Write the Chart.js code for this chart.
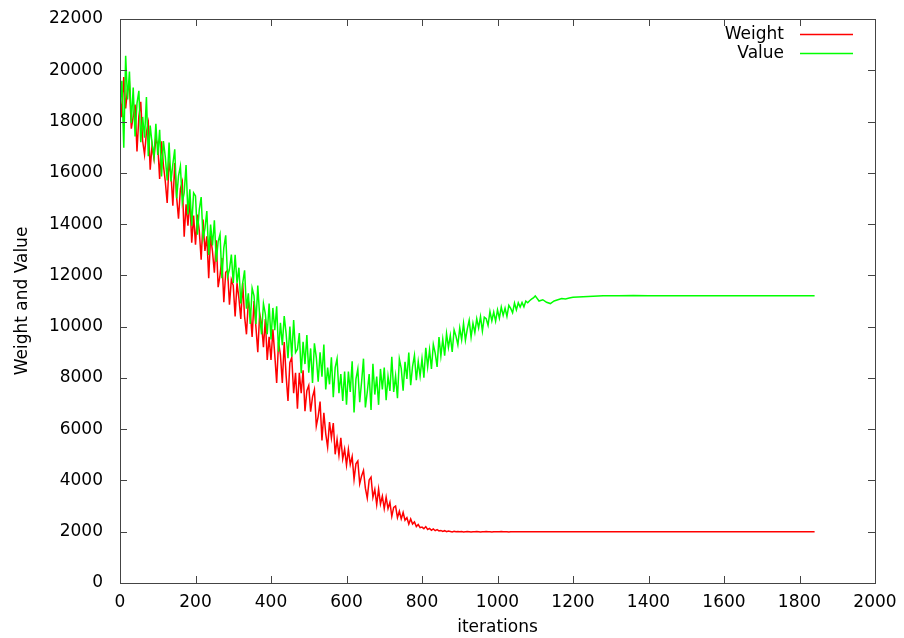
<!DOCTYPE html>
<html>
<head>
<meta charset="utf-8">
<script src="https://cdn.jsdelivr.net/npm/chart.js@4.4.1/dist/chart.umd.min.js"></script>
<style>
  html, body { margin: 0; padding: 0; background: #fff; }
  #wrap { width: 904px; height: 638px; }
</style>
</head>
<body>
<div id="wrap"><canvas id="gaChart" width="904" height="638"></canvas></div>
<script>
// x 값 (iterations) - 잡음 구간은 5 간격, 평탄 구간은 간격을 넓힘
const iterations = [
  0,5,10,15,20,25,30,35,40,45,50,55,60,65,70,75,80,85,90,95,
  100,105,110,115,120,125,130,135,140,145,150,155,160,165,170,175,180,185,190,195,
  200,205,210,215,220,225,230,235,240,245,250,255,260,265,270,275,280,285,290,295,
  300,305,310,315,320,325,330,335,340,345,350,355,360,365,370,375,380,385,390,395,
  400,405,410,415,420,425,430,435,440,445,450,455,460,465,470,475,480,485,490,495,
  500,505,510,515,520,525,530,535,540,545,550,555,560,565,570,575,580,585,590,595,
  600,605,610,615,620,625,630,635,640,645,650,655,660,665,670,675,680,685,690,695,
  700,705,710,715,720,725,730,735,740,745,750,755,760,765,770,775,780,785,790,795,
  800,805,810,815,820,825,830,835,840,845,850,855,860,865,870,875,880,885,890,895,
  900,905,910,915,920,925,930,935,940,945,950,955,960,965,970,975,980,985,990,995,
  1000,1005,1010,1015,1020,1025,1030,1035,1040,1045,1050,1055,1060,1065,1070,1075,1080,1085,1090,1095,
  1100,
  1110,1120,1130,1140,1150,1160,1170,1180,1190,1200,
  1240,1280,1320,1360,1400,1440,1480,1520,1560,1600,1640,1680,1720,1760,1800,1840
];

const weight = [
  19200,18170,19740,18510,19280,19450,17720,18190,18660,16830,18200,18770,17240,16710,17580,17950,16120,17090,16560,17330,
  17100,15765,17230,16295,15660,14825,16390,15955,14720,16385,15050,14215,15380,15645,13510,14775,13940,15005,13270,14335,
  13200,14370,13740,12610,14180,12950,13520,11890,13560,12930,12100,13370,11540,12010,12680,10950,12120,12190,10860,11830,
  11600,10400,11700,11100,10300,11700,10400,9700,11000,10600,9600,11000,10000,9000,10500,10100,9200,10300,8700,9600,
  8700,9900,8900,7800,9400,8900,7800,9400,8100,7100,8600,8800,7400,8200,6800,8200,7400,8300,6700,7500,
  7700,6680,7260,7540,6120,6500,7080,5560,6640,5820,5300,6280,5660,6240,5020,5600,4980,5660,4840,5220,
  4600,5210,4620,4930,4040,4650,4760,3870,4180,4390,3700,3310,4020,4130,3340,3650,3060,3670,3080,3390,
  2900,3350,2900,3150,2600,2950,3000,2550,2800,2500,2750,2450,2550,2300,2500,2300,2380,2200,2280,2160,
  2180,2120,2200,2090,2130,2060,2110,2040,2080,2030,2050,2010,2040,2000,2030,2010,1990,2020,2000,2010,
  2000,2010,1990,2000,2010,2000,1990,2000,2000,2010,2000,1990,2000,2000,2010,2000,2000,1990,2000,2000,
  2000,2000,2010,2000,2000,2000,1990,2000,2000,2000,2000,2000,2000,2000,2000,2000,2000,2000,2000,2000,
  2000,
  2000,2000,2000,2000,2000,2000,2000,2000,2000,2000,
  2000,2000,2000,2000,2000,2000,2000,2000,2000,2000,2000,2000,2000,2000,2000,2000
];

const value = [
  18500,19590,16980,20570,18860,19950,17940,19330,17420,18710,19200,17190,18180,17370,18960,16650,17840,17130,16620,17910,
  16700,17680,15860,17240,16620,15700,17180,15660,16340,16920,15000,15880,16260,14840,15220,16300,14380,15360,13940,15220,
  15100,13585,14570,15055,13440,13825,14510,12795,13980,13165,14150,12535,13320,13605,11890,13075,13560,11945,12230,12815,
  11700,12800,11700,12300,10900,11700,12200,10700,11300,10100,11500,11200,10100,11600,10400,9700,10900,10500,9700,10900,
  9500,10730,9860,10790,9020,10150,9280,10410,9740,8770,10000,8830,10260,8990,9120,9750,8180,9410,8540,9670,
  8200,9150,7800,9350,8800,7850,9000,8050,9300,7550,8400,7750,8800,7250,8400,8750,7400,8150,7100,8250,
  6950,8250,7450,8650,6650,7950,8350,7050,7850,8750,6850,7450,8150,6750,8550,7350,8050,6950,8350,7550,
  8400,7130,8060,7490,8820,7450,8080,7210,8740,8370,7500,8630,7960,8990,7720,8450,8880,7910,8640,8070,
  8750,8010,9170,8430,9090,8350,9310,8970,8430,9590,8850,9510,8870,9730,9190,9650,9010,9870,9630,9290,
  9950,9490,10130,9470,9910,10250,9590,10130,9770,10310,9950,10390,9830,10370,10310,10050,10590,10230,10570,10210,
  10650,10330,10760,10440,10720,10400,10830,10710,10540,10920,10650,10930,10760,10940,10770,11000,10930,11010,11070,11120,
  11200,
  11000,11050,10950,10900,11000,11050,11100,11080,11120,11150,
  11180,11200,11200,11210,11200,11200,11200,11200,11200,11200,11200,11200,11200,11200,11200,11200
];

const seriesNames = ['Weight', 'Value'];
const seriesColors = ['#ff0000', '#00ff00'];
const xTickStep = 200, yTickStep = 2000;

const FONT = 'DejaVu Sans';
const AXIS = '#444';
Chart.defaults.font.family = FONT;
Chart.defaults.font.size = 17;
Chart.defaults.color = '#000';

const toPoints = arr => iterations.map((it, i) => ({ x: it, y: arr[i] }));

// gnuplot 스타일: 안쪽 눈금 + 사방 테두리 + 우측 상단 범례
const gnuFrame = {
  id: 'gnuFrame',
  afterDraw(chart) {
    const { ctx, chartArea: a, scales: { x, y } } = chart;
    ctx.save();
    ctx.strokeStyle = AXIS;
    ctx.lineWidth = 1;
    ctx.strokeRect(Math.round(a.left) + 0.5, Math.round(a.top) + 0.5, Math.round(a.right - a.left), Math.round(a.bottom - a.top));
    ctx.beginPath();
    x.ticks.forEach(t => {
      const px = Math.round(x.getPixelForValue(t.value)) + 0.5;
      ctx.moveTo(px, a.bottom); ctx.lineTo(px, a.bottom - 7);
      ctx.moveTo(px, a.top); ctx.lineTo(px, a.top + 7);
    });
    y.ticks.forEach(t => {
      const py = Math.round(y.getPixelForValue(t.value)) + 0.5;
      ctx.moveTo(a.left, py); ctx.lineTo(a.left + 7, py);
      ctx.moveTo(a.right, py); ctx.lineTo(a.right - 7, py);
    });
    ctx.stroke();

    // 범례
    ctx.font = '17px "' + FONT + '"';
    ctx.textAlign = 'right';
    ctx.textBaseline = 'middle';
    ctx.lineWidth = 1.5;
    chart.data.datasets.forEach((ds, i) => {
      const ly = 35 + i * 19;
      ctx.fillStyle = '#000';
      ctx.fillText(ds.label, 784, ly);
      ctx.strokeStyle = ds.borderColor;
      ctx.beginPath();
      ctx.moveTo(800, ly - 0.5); ctx.lineTo(853, ly - 0.5);
      ctx.stroke();
    });
    ctx.restore();
  }
};

new Chart(document.getElementById('gaChart'), {
  type: 'line',
  data: {
    datasets: [
      { label: seriesNames[0], data: toPoints(weight), borderColor: seriesColors[0], borderWidth: 1.5, pointRadius: 0, tension: 0, order: 2 },
      { label: seriesNames[1], data: toPoints(value), borderColor: seriesColors[1], borderWidth: 1.5, pointRadius: 0, tension: 0, order: 1 }
    ]
  },
  options: {
    responsive: false,
    animation: false,
    layout: { padding: { left: 0, top: 19, right: 29, bottom: 0 } },
    plugins: { legend: { display: false }, tooltip: { enabled: false } },
    scales: {
      x: {
        type: 'linear', min: 0, max: 2000,
        afterFit: s => { s.height = 55; s.paddingLeft = 0; s.paddingRight = 0; },
        grid: { display: false, drawTicks: false },
        border: { display: false },
        ticks: { stepSize: xTickStep, padding: 9, maxRotation: 0, callback: v => String(v) },
        title: { display: true, text: 'iterations', padding: { top: 0, bottom: 0 } }
      },
      y: {
        min: 0, max: 22000,
        afterFit: s => { s.width = 120; s.paddingTop = 0; s.paddingBottom = 0; },
        grid: { display: false, drawTicks: false },
        border: { display: false },
        ticks: { stepSize: yTickStep, padding: 17, callback: v => String(v) },
        title: { display: true, text: 'Weight and Value', padding: { top: 12, bottom: 0 } }
      }
    }
  },
  plugins: [gnuFrame]
});
</script>
</body>
</html>
